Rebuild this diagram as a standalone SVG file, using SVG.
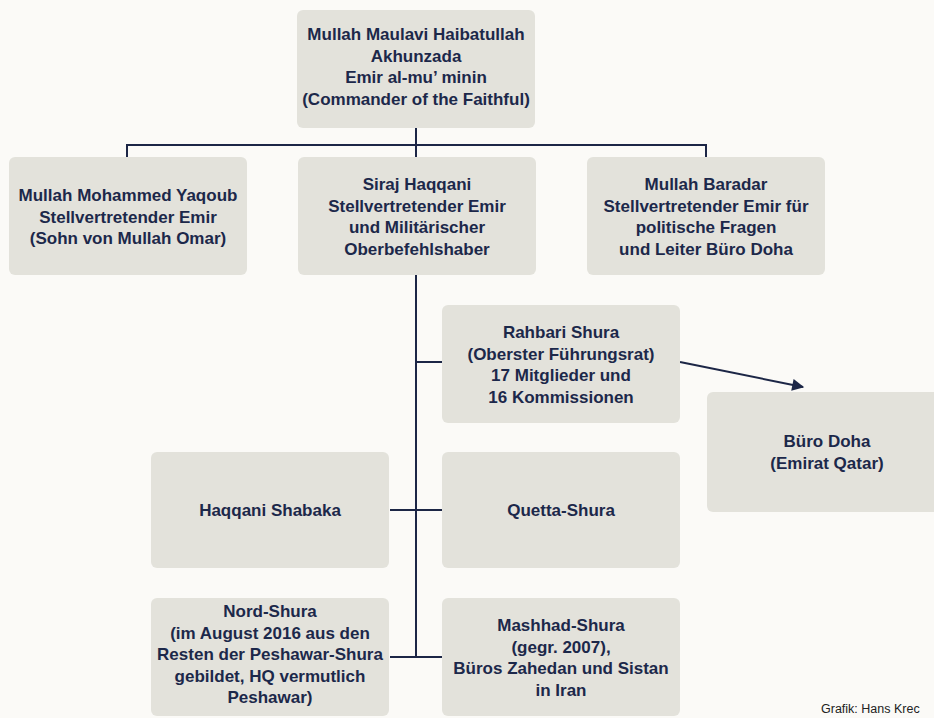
<svg xmlns="http://www.w3.org/2000/svg" width="934" height="718" viewBox="0 0 934 718">
  <style>
    .box { fill: #e3e2db; }
    .t { font-family: "Liberation Sans", Arial, sans-serif; font-weight: bold; font-size: 17px; fill: #1c284a; text-anchor: middle; }
    .c { stroke: #1c2646; stroke-width: 2; fill: none; }
    .credit { font-family: "Liberation Sans", Arial, sans-serif; font-size: 12.5px; fill: #222; }
  </style>
  <defs>
    <marker id="ah" viewBox="0 0 10 10" refX="9" refY="5" markerWidth="7" markerHeight="6" orient="auto" markerUnits="strokeWidth">
      <path d="M0,0 L10,5 L0,10 z" fill="#1c2646"/>
    </marker>
  </defs>
  <rect width="934" height="718" fill="#fbfaf7"/>

  <g id="connectors">
    <line class="c" x1="416" y1="128" x2="416" y2="145"/>
    <line class="c" x1="126" y1="145" x2="707" y2="145"/>
    <line class="c" x1="127" y1="145" x2="127" y2="157"/>
    <line class="c" x1="416" y1="145" x2="416" y2="157"/>
    <line class="c" x1="706" y1="145" x2="706" y2="157"/>
    <line class="c" x1="416" y1="275" x2="416" y2="658"/>
    <line class="c" x1="416" y1="362" x2="442" y2="362"/>
    <line class="c" x1="390" y1="510" x2="442" y2="510"/>
    <line class="c" x1="390" y1="657" x2="442" y2="657"/>
    <line class="c" x1="680" y1="362" x2="803" y2="387" marker-end="url(#ah)"/>
  </g>

  <g id="emir">
    <rect class="box" x="297" y="10" width="238" height="118" rx="6"/>
    <text class="t" x="416" y="40">Mullah Maulavi Haibatullah</text>
    <text class="t" x="416" y="61.7">Akhunzada</text>
    <text class="t" x="416" y="83.4">Emir al-mu’ minin</text>
    <text class="t" x="416" y="105.1">(Commander of the Faithful)</text>
  </g>

  <g id="yaqoub">
    <rect class="box" x="9" y="157" width="238" height="118" rx="6"/>
    <text class="t" x="128" y="201">Mullah Mohammed Yaqoub</text>
    <text class="t" x="128" y="222.5">Stellvertretender Emir</text>
    <text class="t" x="128" y="244">(Sohn von Mullah Omar)</text>
  </g>

  <g id="siraj">
    <rect class="box" x="298" y="157" width="238" height="118" rx="6"/>
    <text class="t" x="417" y="190">Siraj Haqqani</text>
    <text class="t" x="417" y="211.5">Stellvertretender Emir</text>
    <text class="t" x="417" y="233">und Militärischer</text>
    <text class="t" x="417" y="254.5">Oberbefehlshaber</text>
  </g>

  <g id="baradar">
    <rect class="box" x="587" y="157" width="238" height="118" rx="6"/>
    <text class="t" x="706" y="190">Mullah Baradar</text>
    <text class="t" x="706" y="211.5">Stellvertretender Emir für</text>
    <text class="t" x="706" y="233">politische Fragen</text>
    <text class="t" x="706" y="254.5">und Leiter Büro Doha</text>
  </g>

  <g id="rahbari">
    <rect class="box" x="442" y="305" width="238" height="118" rx="6"/>
    <text class="t" x="561" y="338">Rahbari Shura</text>
    <text class="t" x="561" y="359.5">(Oberster Führungsrat)</text>
    <text class="t" x="561" y="381">17 Mitglieder und</text>
    <text class="t" x="561" y="402.5">16 Kommissionen</text>
  </g>

  <g id="doha">
    <rect class="box" x="707" y="392" width="240" height="120" rx="6"/>
    <text class="t" x="827" y="447">Büro Doha</text>
    <text class="t" x="827" y="468.5">(Emirat Qatar)</text>
  </g>

  <g id="haqqani">
    <rect class="box" x="151" y="452" width="238" height="116" rx="6"/>
    <text class="t" x="270" y="516">Haqqani Shabaka</text>
  </g>

  <g id="quetta">
    <rect class="box" x="442" y="452" width="238" height="116" rx="6"/>
    <text class="t" x="561" y="516">Quetta-Shura</text>
  </g>

  <g id="nord">
    <rect class="box" x="151" y="598" width="238" height="118" rx="6"/>
    <text class="t" x="270" y="617">Nord-Shura</text>
    <text class="t" x="270" y="638.5">(im August 2016 aus den</text>
    <text class="t" x="270" y="660">Resten der Peshawar-Shura</text>
    <text class="t" x="270" y="681.5">gebildet, HQ vermutlich</text>
    <text class="t" x="270" y="703">Peshawar)</text>
  </g>

  <g id="mashhad">
    <rect class="box" x="442" y="598" width="238" height="118" rx="6"/>
    <text class="t" x="561" y="631">Mashhad-Shura</text>
    <text class="t" x="561" y="652.5">(gegr. 2007),</text>
    <text class="t" x="561" y="674">Büros Zahedan und Sistan</text>
    <text class="t" x="561" y="695.5">in Iran</text>
  </g>

  <text class="credit" x="821" y="713">Grafik: Hans Krec</text>
</svg>
